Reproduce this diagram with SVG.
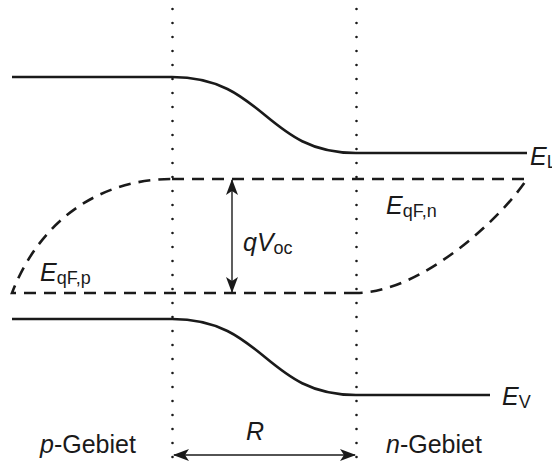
<svg xmlns="http://www.w3.org/2000/svg" width="552" height="463" viewBox="0 0 552 463">
<style>
.band{fill:none;stroke:#1a1a1a;stroke-width:2.6}
.fermi{fill:none;stroke:#1a1a1a;stroke-width:2.6;stroke-dasharray:12 8}
.dot{fill:none;stroke:#1a1a1a;stroke-width:2.6;stroke-dasharray:0 14;stroke-linecap:round}
.arr{fill:none;stroke:#1a1a1a;stroke-width:1.4;marker-start:url(#ah);marker-end:url(#ah)}
text{font-family:"Liberation Sans","Open Sans",sans-serif;font-size:25px;fill:#1a1a1a}
.i{font-style:italic}
.s{font-size:18px}
</style>
<defs>
<marker id="ah" viewBox="0 0 16 12" refX="15" refY="6" markerWidth="16" markerHeight="12" markerUnits="userSpaceOnUse" orient="auto-start-reverse">
<path d="M0,0 L16,6 L0,12 L4,6 z" fill="#1a1a1a"/>
</marker>
</defs>
<g id="boundaries">
<line class="dot" x1="172.5" y1="9" x2="172.5" y2="458"/>
<line class="dot" x1="356.5" y1="9" x2="356.5" y2="458"/>
</g>
<g id="EL">
<path class="band" d="M12,77 H172 C265,77 265,153 356,153 H527"/>
<text x="530" y="165"><tspan class="i">E</tspan><tspan class="s" dy="3">L</tspan></text>
</g>
<g id="EV">
<path class="band" d="M12,319 H172 C265,319 265,395 356,395 H490"/>
<text x="502" y="405"><tspan class="i">E</tspan><tspan class="s" dy="3">V</tspan></text>
</g>
<g id="EqFn">
<path class="fermi" d="M172,179 H527 C500,220 420,293 356,293"/>
<text x="386" y="214"><tspan class="i">E</tspan><tspan class="s" dy="3">qF,n</tspan></text>
</g>
<g id="EqFp">
<path class="fermi" d="M356,293 H12 C40,220 100,179 172,179"/>
<text x="40" y="281"><tspan class="i">E</tspan><tspan class="s" dy="3">qF,p</tspan></text>
</g>
<g id="connectors">
<line class="arr" x1="232" y1="180" x2="232" y2="292"/>
<line class="arr" x1="174" y1="455" x2="355" y2="455"/>
</g>
<g id="labels">
<text x="243" y="251"><tspan class="i">qV</tspan><tspan class="s" dy="3">oc</tspan></text>
<text x="246" y="440" class="i">R</text>
<text x="40" y="453"><tspan class="i">p</tspan>-Gebiet</text>
<text x="386" y="453"><tspan class="i">n</tspan>-Gebiet</text>
</g>
</svg>
